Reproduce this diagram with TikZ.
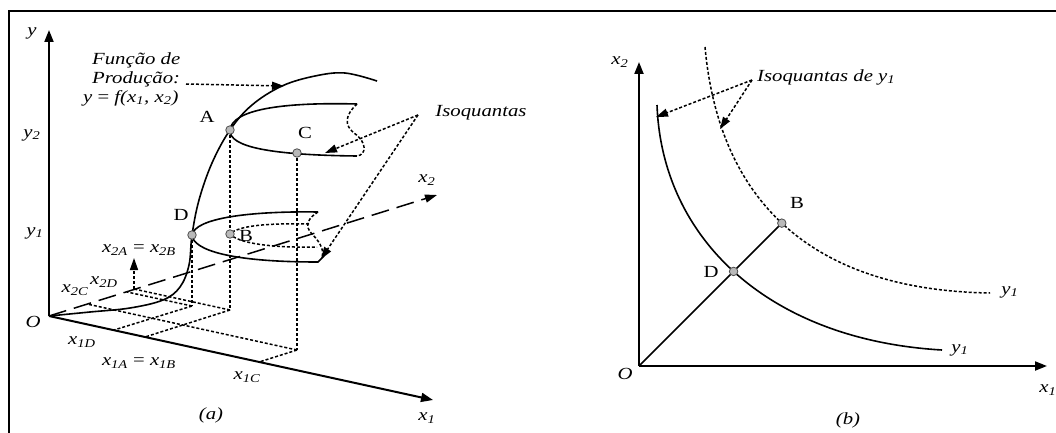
\documentclass[tikz,border=0pt]{standalone}
\usepackage{fontspec}
\usepackage{graphicx}
\setmainfont{Liberation Serif}
\usetikzlibrary{arrows.meta,intersections}
\newcommand{\sbs}[1]{\textsubscript{#1}}
\newcommand{\sx}[1]{\scalebox{1.22}[1]{#1}}
\begin{document}
\begin{tikzpicture}[x=1pt,y=-1pt,
 lbl/.style={inner sep=0pt, font=\fontsize{17}{19}\selectfont\itshape},
 ulbl/.style={inner sep=0pt, font=\fontsize{17}{19}\selectfont},
 axis/.style={line width=2pt, -{Triangle[length=12pt,width=9pt]}},
 curve/.style={line width=1.6pt},
 dots/.style={line width=1.5pt, dash pattern=on 3pt off 2pt},
 dotarrow/.style={dots, -{Triangle[length=12pt,width=8pt]}},
 pt/.style={circle, fill=gray!55, draw=gray!60!black, line width=0.8pt, minimum size=8.5pt, inner sep=0pt},
]
\useasboundingbox (0,0) rectangle (1056,433);
\fill[white] (0,0) rectangle (1056,433);
\draw[line width=1.5pt] (9,433) -- (9,11) -- (1056,11);

% ---------------- panel (a) ----------------
\coordinate (O) at (49,316);
\coordinate (Ytop) at (49,30);
\coordinate (X1end) at (433,400);
\coordinate (X2end) at (437,195);
\draw[axis] (O) -- (Ytop);
\draw[axis] (O) -- (X1end);
\draw[line width=1.5pt, dash pattern=on 18pt off 8pt, -{Triangle[length=12pt,width=8pt]}] (O) -- (X2end);

% feet on the ground plane
\coordinate (FD) at (192,306);
\coordinate (FA) at (230,310);
\coordinate (FC) at (297,350);
\coordinate (x1D) at (114,330);
\coordinate (x2D) at (127,292);
\coordinate (x1A) at (145,337);
\coordinate (x2A) at (134,289);
\coordinate (x1C) at (259,362);
\coordinate (x2C) at (87,304);
\coordinate (x2Atip) at (134,258);

% points
\coordinate (Ap) at (230,130);
\coordinate (Dp) at (192,235);
\coordinate (Cp) at (297,153);
\coordinate (Bp) at (230,234);

% production function
\draw[curve] plot[smooth, tension=0.6] coordinates {(49,316) (90,312) (130,308) (163,300) (180,287) (189,265) (192,235) (199,200) (212,163) (230,130) (252,105) (282,86) (315,76) (345,73) (377,81)};

% upper isoquant (y2)
\draw[curve] (357,104) .. controls (280,102) and (232,110) .. (Ap) .. controls (229,147) and (270,155) .. (357,156);
\draw[dots] (357,104) .. controls (345,115) and (344,125) .. (354,133) .. controls (368,143) and (366,155) .. (357,156);

% lower isoquant (y1)
\draw[curve] (318,212) .. controls (250,211) and (195,218) .. (Dp) .. controls (193,250) and (230,262) .. (318,262) -- (324,256);
\draw[dots] (318,212) .. controls (308,218) and (304,226) .. (312,234) .. controls (322,244) and (324,252) .. (322,258);
\draw[dots] (309,224) .. controls (265,223) and (238,226) .. (Bp) .. controls (238,243) and (270,248) .. (317,247);

% drop lines
\draw[dots] (Ap) -- (FA);
\draw[dots] (Dp) -- (FD);
\draw[dots] (Cp) -- (FC);
\draw[dots] (FD) -- (x1D);
\draw[dots] (FD) -- (x2D);
\draw[dots] (FA) -- (x1A);
\draw[dots] (FA) -- (x2A);
\draw[dots] (FC) -- (x1C);
\draw[dots] (FC) -- (x2C);
\draw[dotarrow] (x2A) -- (x2Atip);

\node[pt] (A) at (Ap) {};
\node[pt] (D) at (Dp) {};
\node[pt] (C) at (Cp) {};
\node[pt] (B) at (Bp) {};

% function label and arrow
\node[lbl, anchor=west] (f1) at (92,60) {\sx{Função de}};
\node[lbl, anchor=west] (f2) at (92,79) {\sx{Produção:}};
\node[lbl, anchor=west] (f3) at (83,98) {\sx{y {\upshape =} f(x\sbs{1}, x\sbs{2})}};
\coordinate (fs) at (186,84);
\coordinate (ft) at (284,86);
\draw[dotarrow] (fs) -- (ft);

% Isoquantas arrows
\node[lbl] (iso) at (481,113) {\sx{Isoquantas}};
\coordinate (S1) at (418,115);
\coordinate (T1) at (325,153);
\coordinate (T2) at (321,259);
\draw[dotarrow] (S1) -- (T1);
\draw[dotarrow] (S1) -- (T2);

% labels (a)
\node[lbl] (ly) at (32,33) {\sx{y}};
\node[lbl] (ly2) at (32,135) {\sx{y\sbs{2}}};
\node[lbl] (ly1) at (35,233) {\sx{y\sbs{1}}};
\node[lbl] (lO) at (33,322) {\sx{O}};
\node[ulbl] (lA) at (207,117) {\sx{A}};
\node[ulbl] (lC) at (305,133) {\sx{C}};
\node[ulbl] (lD) at (181,215) {\sx{D}};
\node[ulbl] (lB) at (246,236) {\sx{B}};
\node[lbl] (lx2) at (427,180) {\sx{x\sbs{2}}};
\node[lbl] (lx1) at (427,418) {\sx{x\sbs{1}}};
\node[lbl] (lx2AB) at (139,250) {\sx{x\sbs{2A} {\upshape =} x\sbs{2B}}};
\node[lbl] (lx2C) at (75,290) {\sx{x\sbs{2C}}};
\node[lbl] (lx2D) at (104,282) {\sx{x\sbs{2D}}};
\node[lbl] (lx1D) at (82,342) {\sx{x\sbs{1D}}};
\node[lbl] (lx1AB) at (139,363) {\sx{x\sbs{1A} {\upshape =} x\sbs{1B}}};
\node[lbl] (lx1C) at (247,377) {\sx{x\sbs{1C}}};
\node[lbl] (la) at (211,415) {\sx{(a)}};

% ---------------- panel (b) ----------------
\coordinate (O2) at (639,366);
\coordinate (Y2top) at (639,62);
\coordinate (X12end) at (1047,366);
\draw[axis] (O2) -- (Y2top);
\draw[axis] (O2) -- (X12end);

\draw[curve, name path=solidiso] (657,105) .. controls (662,240) and (770,340) .. (942,350);
\draw[dots, name path=dotiso] (705,47) .. controls (718,190) and (800,290) .. (990,293);
\path[name path=ray] (O2) -- ++(200,-200);
\path[name intersections={of=ray and solidiso, by=Db}];
\path[name intersections={of=ray and dotiso, by=Bb}];
\draw[line width=1.5pt] (O2) -- (Bb);
\node[pt] (D2) at (Db) {};
\node[pt] (B2) at (Bb) {};

\node[lbl, anchor=west] (iso2) at (757,77) {\sx{Isoquantas de y\sbs{1}}};
\coordinate (S2) at (752,80);
\coordinate (T3) at (656,117);
\coordinate (T4) at (720,129);
\draw[dotarrow] (S2) -- (T3);
\draw[dotarrow] (S2) -- (T4);

\node[lbl] (lx2b) at (620,62) {\sx{x\sbs{2}}};
\node[lbl] (lOb) at (625,374) {\sx{O}};
\node[lbl] (lx1b) at (1048,390) {\sx{x\sbs{1}}};
\node[lbl] (lb) at (848,420) {\sx{(b)}};
\node[ulbl] (lDb) at (711,272) {\sx{D}};
\node[ulbl] (lBb) at (797,203) {\sx{B}};
\node[lbl] (ly1a) at (1010,292) {\sx{y\sbs{1}}};
\node[lbl] (ly1b) at (960,350) {\sx{y\sbs{1}}};
\end{tikzpicture}
\end{document}
